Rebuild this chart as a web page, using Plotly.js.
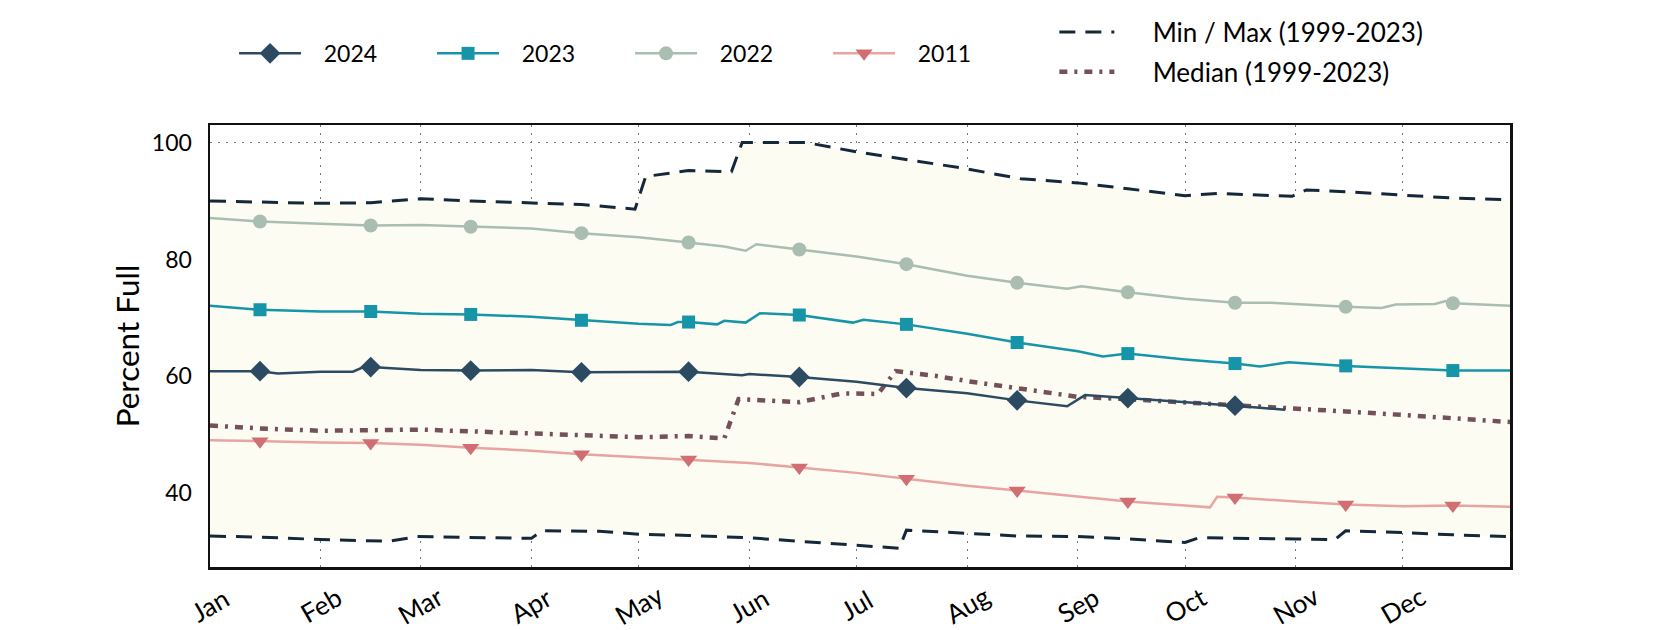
<!DOCTYPE html>
<html>
<head>
<meta charset="utf-8">
<script src="https://cdn.plot.ly/plotly-3.0.1.min.js"></script>
<style>
  html, body { margin: 0; padding: 0; background: #ffffff; }
  #chart { width: 1680px; height: 630px; }
</style>
</head>
<body>
<div id="chart"></div>
<script>
// ---- Data (month-day, on a common non-leap calendar) ----
var monthTicks = ['2023-01-01','2023-02-01','2023-03-01','2023-04-01','2023-05-01','2023-06-01',
                  '2023-07-01','2023-08-01','2023-09-01','2023-10-01','2023-11-01','2023-12-01'];
var monthLabels = ['Jan','Feb','Mar','Apr','May','Jun','Jul','Aug','Sep','Oct','Nov','Dec'];

var maxDates = ['01-01','01-15','02-01','02-15','03-01','03-15','04-01','04-15','04-30','05-03','05-15','05-27','05-30','06-17','07-01','07-19','07-31','08-16','09-01','09-15','10-01','10-10','10-31','11-04','11-15','12-01','12-15','12-31'];
var maxVals  = [90.0,89.8,89.6,89.7,90.4,90.0,89.7,89.4,88.6,94.2,95.2,95.0,100.0,100.0,98.4,96.7,95.6,93.8,93.1,92.1,90.9,91.3,90.8,91.9,91.6,91.0,90.5,90.2];

var minDates = ['01-01','01-15','02-01','02-20','02-28','03-15','04-01','04-04','04-20','05-01','05-15','06-01','06-15','07-01','07-13','07-15','08-01','08-15','09-01','09-15','10-01','10-05','11-01','11-12','11-15','12-01','12-15','12-31'];
var minVals  = [32.7,32.5,32.1,31.8,32.6,32.5,32.3,33.6,33.5,33.0,32.8,32.4,31.8,31.0,30.6,33.7,33.2,32.7,32.6,32.2,31.6,32.4,32.2,32.1,33.6,33.3,32.9,32.6];

var medDates = ['01-01','01-15','02-01','02-15','03-01','03-15','04-01','04-15','05-01','05-15','05-25','05-29','06-15','06-27','07-07','07-12','07-23','08-01','08-15','09-01','09-15','10-01','10-15','11-01','11-15','12-01','12-15','12-31'];
var medVals  = [51.6,51.1,50.7,50.8,50.9,50.6,50.3,49.9,49.6,49.8,49.4,56.1,55.6,57.1,57.0,60.9,60.1,59.2,57.9,56.5,56.1,55.6,55.1,54.6,54.0,53.4,52.9,52.2];

var d2024 = ['01-01','01-15','01-20','02-01','02-10','02-13','02-15','03-01','03-15','04-01','04-15','05-01','05-15','05-30','06-01','06-15','07-01','07-15','08-01','08-15','08-29','09-03','09-15','10-01','10-15','10-29'];
var v2024 = [60.9,60.9,60.5,60.8,60.8,61.6,61.6,61.1,61.0,61.1,60.7,60.8,60.8,60.2,60.4,59.9,59.1,58.0,57.1,55.9,54.9,56.8,56.3,55.6,55.0,54.3];

var d2023 = ['01-01','01-15','02-01','02-15','03-01','03-15','04-01','04-15','05-01','05-10','05-12','05-15','05-23','05-25','05-31','06-04','06-15','06-30','07-03','07-15','08-01','08-15','09-01','09-08','09-15','10-01','10-15','10-22','10-30','11-15','12-01','12-15','12-31'];
var v2023 = [72.1,71.4,71.1,71.1,70.7,70.6,70.2,69.6,69.0,68.8,69.3,69.3,68.9,69.5,69.2,70.8,70.5,69.2,69.7,68.9,67.3,65.8,64.3,63.4,63.9,62.9,62.2,61.7,62.4,61.8,61.4,61.0,61.0];

var d2022 = ['01-01','01-15','02-01','02-15','03-01','03-15','04-01','04-15','05-01','05-15','05-25','05-31','06-03','06-15','07-01','07-15','08-01','08-15','08-29','09-02','09-15','10-01','10-15','10-25','11-15','11-25','11-29','12-10','12-13','12-15','12-31'];
var v2022 = [87.1,86.5,86.1,85.8,85.9,85.6,85.3,84.5,83.8,82.9,82.2,81.5,82.6,81.7,80.5,79.2,77.2,76.0,75.0,75.4,74.4,73.3,72.6,72.6,71.9,71.7,72.3,72.4,72.9,72.5,72.1];

var d2011 = ['01-01','01-15','02-01','02-15','03-01','03-15','04-01','04-15','05-01','05-15','06-01','06-15','07-01','07-15','08-01','08-15','09-01','09-15','10-01','10-08','10-10','10-15','11-01','11-15','12-01','12-15','12-31'];
var v2011 = [49.1,48.9,48.7,48.6,48.3,47.8,47.3,46.7,46.2,45.8,45.2,44.4,43.5,42.5,41.3,40.5,39.5,38.6,37.9,37.6,39.4,39.3,38.6,38.1,37.8,37.9,37.7];

// ---- helpers ----
function toDates(md) { return md.map(function (s) { return '2023-' + s; }); }
function midMonthIdx(md) {
  var out = [];
  md.forEach(function (d, i) { if (d.slice(3) === '15') out.push(i); });
  return out;
}
var PAD1 = '\u00a0\u00a0\u00a0';
var PAD2 = '\u00a0\u00a0\u00a0\u00a0\u00a0';

var FONT = 'Lato, "Open Sans", sans-serif';

function yearTrace(name, md, vals, color, lineColor, symbol, msize) {
  return {
    type: 'scatter', mode: 'lines+markers', name: PAD1 + name,
    x: toDates(md), y: vals,
    line: { color: lineColor, width: 2.5 },
    marker: { color: color, symbol: symbol, size: msize, opacity: 1, line: { width: 0 } },
    selectedpoints: midMonthIdx(md),
    selected: { marker: { opacity: 1 } },
    unselected: { marker: { opacity: 0 } },
    legend: 'legend', hoverinfo: 'skip'
  };
}

var traces = [
  { type: 'scatter', mode: 'lines', name: PAD2 + 'Min / Max (1999-2023)',
    x: toDates(minDates), y: minVals,
    line: { color: '#15273a', width: 3, dash: '16px,10px' },
    legend: 'legend2', legendgroup: 'mm', hoverinfo: 'skip' },
  { type: 'scatter', mode: 'lines', name: 'Max',
    x: toDates(maxDates), y: maxVals, fill: 'tonexty', fillcolor: '#fcfcf2',
    line: { color: '#15273a', width: 3, dash: '16px,10px' },
    showlegend: false, legend: 'legend2', legendgroup: 'mm', hoverinfo: 'skip' },
  { type: 'scatter', mode: 'lines', name: PAD2 + 'Median (1999-2023)',
    x: toDates(medDates), y: medVals,
    line: { color: '#74505a', width: 4.5, dash: '8px,7px,3px,7px' },
    legend: 'legend2', legendgroup: 'md', hoverinfo: 'skip' },
  yearTrace('2011', d2011, v2011, '#d06e74', '#e8a4a0', 'triangle-down', 15),
  yearTrace('2022', d2022, v2022, '#aabdb1', '#aabdb1', 'circle', 14),
  yearTrace('2023', d2023, v2023, '#1795a8', '#1795a8', 'square', 13),
  yearTrace('2024', d2024, v2024, '#2c4b63', '#2c4b63', 'diamond', 16)
];
traces[3].legendrank = 4; traces[4].legendrank = 3; traces[5].legendrank = 2; traces[6].legendrank = 1;

var annotations = monthTicks.map(function (m, i) {
  return { x: m, xref: 'x', y: 0, yref: 'paper', yshift: -38,
           text: monthLabels[i], showarrow: false, textangle: -30,
           xanchor: 'center', yanchor: 'middle',
           font: { family: FONT, size: 26, color: '#000' } };
});

var layout = {
  width: 1680, height: 630,
  paper_bgcolor: '#ffffff', plot_bgcolor: '#ffffff',
  margin: { l: 210, r: 170, t: 125, b: 63, autoexpand: false },
  font: { family: FONT, size: 23, color: '#000' },
  showlegend: true,
  xaxis: {
    type: 'date', range: ['2023-01-01', '2023-12-31'],
    tickvals: monthTicks, showticklabels: false, ticks: '',
    showgrid: true, gridcolor: '#7a7a7a', gridwidth: 1, griddash: '2px,6px',
    showline: true, mirror: true, linecolor: '#111', linewidth: 2.5,
    zeroline: false, fixedrange: true
  },
  yaxis: {
    range: [27.4, 103], tickvals: [40, 60, 80, 100],
    ticks: 'outside', ticklen: 11, tickcolor: 'rgba(0,0,0,0)',
    tickfont: { family: FONT, size: 23, color: '#000' },
    showgrid: true, gridcolor: '#7a7a7a', gridwidth: 1, griddash: '2px,6px',
    showline: true, mirror: true, linecolor: '#111', linewidth: 2.5,
    zeroline: false, fixedrange: true,
    title: { text: 'Percent Full', font: { family: FONT, size: 31.5, color: '#000' }, standoff: 3 }
  },
  legend: {
    orientation: 'h', x: 0.0185, xanchor: 'left', y: 1.162, yanchor: 'middle',
    entrywidth: 121, entrywidthmode: 'pixels', itemwidth: 62,
    traceorder: 'normal',
    font: { family: FONT, size: 23, color: '#000' },
    bgcolor: 'rgba(0,0,0,0)'
  },
  legend2: {
    orientation: 'v', x: 0.6495, xanchor: 'left', y: 1.165, yanchor: 'middle',
    itemwidth: 55, tracegroupgap: 3, traceorder: 'grouped',
    font: { family: FONT, size: 26, color: '#000' },
    bgcolor: 'rgba(0,0,0,0)'
  },
  annotations: annotations
};

Plotly.newPlot('chart', traces, layout, { staticPlot: true });
</script>
</body>
</html>
